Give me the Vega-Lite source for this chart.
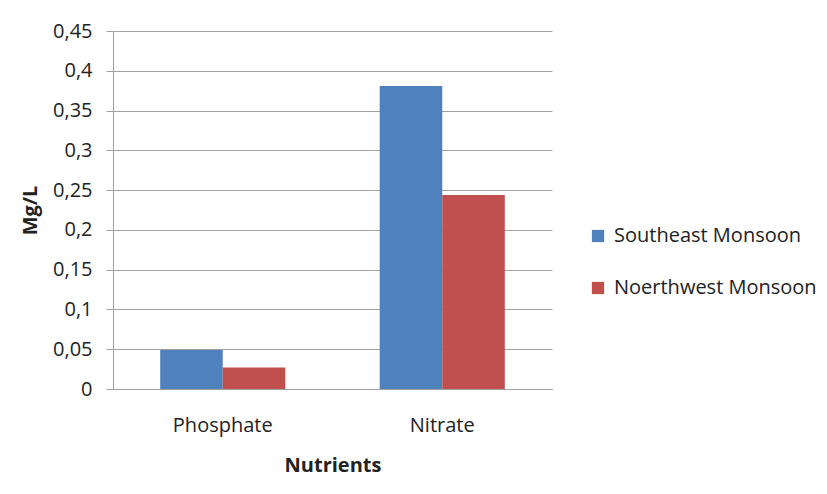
{
  "$schema": "https://vega.github.io/schema/vega-lite/v6.json",
  "width": 439,
  "height": 358,
  "autosize": {"type": "none"},
  "padding": {"left": 113, "top": 31, "right": 275, "bottom": 105},
  "background": "white",
  "config": {
    "view": {"stroke": null},
    "font": "Open Sans, sans-serif"
  },
  "data": {
    "values": [
      {"nutrient": "Phosphate", "season": "Southeast Monsoon", "value": 0.049},
      {"nutrient": "Phosphate", "season": "Noerthwest Monsoon", "value": 0.027},
      {"nutrient": "Nitrate", "season": "Southeast Monsoon", "value": 0.381},
      {"nutrient": "Nitrate", "season": "Noerthwest Monsoon", "value": 0.244}
    ]
  },
  "mark": {"type": "bar"},
  "encoding": {
    "x": {
      "field": "nutrient",
      "type": "nominal",
      "sort": ["Phosphate", "Nitrate"],
      "scale": {"paddingInner": 0.43, "paddingOuter": 0.215},
      "axis": {
        "title": "Nutrients",
        "labelAngle": 0,
        "labelFontSize": 20,
        "labelColor": "#222",
        "labelPadding": 26,
        "ticks": false,
        "domainColor": "#a0a0a0",
        "titleFontSize": 20,
        "titleFontWeight": "bold",
        "titleColor": "#222",
        "titlePadding": 20
      }
    },
    "xOffset": {
      "field": "season",
      "type": "nominal",
      "sort": ["Southeast Monsoon", "Noerthwest Monsoon"],
      "scale": {"paddingInner": 0, "paddingOuter": 0}
    },
    "y": {
      "field": "value",
      "type": "quantitative",
      "scale": {"domain": [0, 0.45], "nice": false},
      "axis": {
        "title": "Mg/L",
        "values": [0, 0.05, 0.1, 0.15, 0.2, 0.25, 0.3, 0.35, 0.4, 0.45],
        "labelExpr": "replace(format(datum.value, '~g'), '.', ',')",
        "labelFontSize": 20,
        "labelColor": "#222",
        "labelPadding": 14,
        "tickSize": 7,
        "tickColor": "#a0a0a0",
        "domainColor": "#a0a0a0",
        "gridColor": "#a0a0a0",
        "grid": true,
        "titleFontSize": 20,
        "titleFontWeight": "bold",
        "titleColor": "#222",
        "titleX": -83,
        "titleY": 179,
        "titleAlign": "center",
        "titleBaseline": "middle",
        "titleAngle": 270
      }
    },
    "color": {
      "field": "season",
      "type": "nominal",
      "sort": ["Southeast Monsoon", "Noerthwest Monsoon"],
      "scale": {"range": ["#4F81BD", "#C0504D"]},
      "legend": {
        "title": null,
        "orient": "none",
        "legendX": 475,
        "legendY": 195,
        "symbolType": "square",
        "symbolSize": 150,
        "symbolStrokeWidth": 0,
        "labelFontSize": 20,
        "labelColor": "#222",
        "labelLimit": 300,
        "rowPadding": 32,
        "labelOffset": 6
      }
    }
  }
}
